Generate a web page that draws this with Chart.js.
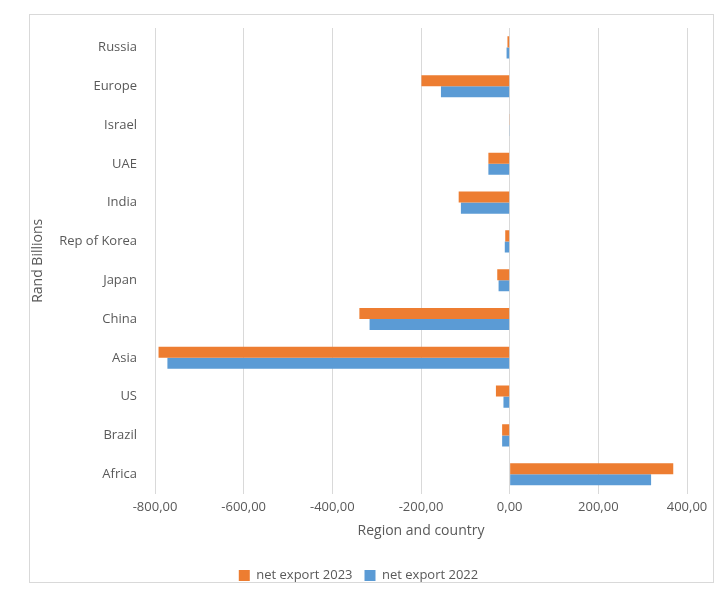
<!DOCTYPE html>
<html>
<head>
  <meta charset="UTF-8">
  <title>Net export by region and country</title>
  <script src="https://cdn.jsdelivr.net/npm/chart.js@4.4.0/dist/chart.umd.min.js"></script>
  <style>
    body { margin: 0; background: #fff; }
    .frame { position: absolute; left: 29px; top: 14px; width: 683px; height: 567px; border: 1px solid #d9d9d9; }
    .chart-box { position: absolute; left: 0; top: 0; width: 720px; height: 599px; }
  </style>
</head>
<body>
  <div class="frame"></div>
  <div class="chart-box">
    <canvas id="exportChart"></canvas>
  </div>

  <script>
    // Categories top to bottom, values in Rand billions
    const regions = ['Russia', 'Europe', 'Israel', 'UAE', 'India', 'Rep of Korea',
                     'Japan', 'China', 'Asia', 'US', 'Brazil', 'Africa'];
    const netExport2023 = [-5, -199, -1.5, -48, -115, -10, -28, -339, -792, -31, -17, 369];
    const netExport2022 = [-7, -155, -1.5, -48, -110, -11, -25, -316, -772, -14, -17, 319];
    const xTicks = [-800, -600, -400, -200, 0, 200, 400];

    const textColor = '#595959';
    const fontFamily = "'Open Sans', sans-serif";

    // comma as decimal separator, like the original
    function fmt(v) {
      return v.toFixed(2).replace('.', ',');
    }

    const ctx = document.getElementById('exportChart').getContext('2d');
    const exportChart = new Chart(ctx, {
      type: 'bar',
      data: {
        labels: regions,
        datasets: [
          {
            label: 'net export 2023',
            data: netExport2023,
            backgroundColor: '#ED7D31',
            barPercentage: 1.0,
            categoryPercentage: 0.57
          },
          {
            label: 'net export 2022',
            data: netExport2022,
            backgroundColor: '#5B9BD5',
            barPercentage: 1.0,
            categoryPercentage: 0.57
          }
        ]
      },
      options: {
        indexAxis: 'y',
        responsive: true,
        maintainAspectRatio: false,
        animation: false,
        layout: {
          padding: { left: 30, right: 33, top: 28, bottom: 7 }
        },
        scales: {
          x: {
            min: -800,
            max: 400,
            afterBuildTicks: (scale) => {
              scale.ticks = xTicks.map(v => ({ value: v }));
            },
            grid: { color: '#d9d9d9', lineWidth: 1, drawTicks: false },
            border: { display: false },
            ticks: {
              color: textColor,
              font: { family: fontFamily, size: 13 },
              padding: 6,
              callback: (v) => fmt(v)
            },
            title: {
              display: true,
              text: 'Region and country',
              color: textColor,
              font: { family: fontFamily, size: 14 },
              padding: { top: 1, bottom: 18 }
            }
          },
          y: {
            grid: { display: false, drawTicks: false },
            border: { display: false },
            ticks: {
              color: textColor,
              font: { family: fontFamily, size: 13 },
              padding: 18
            },
            title: {
              display: true,
              text: 'Rand Billions',
              color: textColor,
              font: { family: fontFamily, size: 14 },
              padding: { top: 0, bottom: 4 }
            },
            afterFit: (scale) => { scale.width = 125; }
          }
        },
        plugins: {
          legend: {
            display: true,
            position: 'bottom',
            labels: {
              color: textColor,
              font: { family: fontFamily, size: 13 },
              boxWidth: 11,
              boxHeight: 11,
              padding: 12
            }
          },
          tooltip: { enabled: false }
        }
      }
    });
  </script>
</body>
</html>
